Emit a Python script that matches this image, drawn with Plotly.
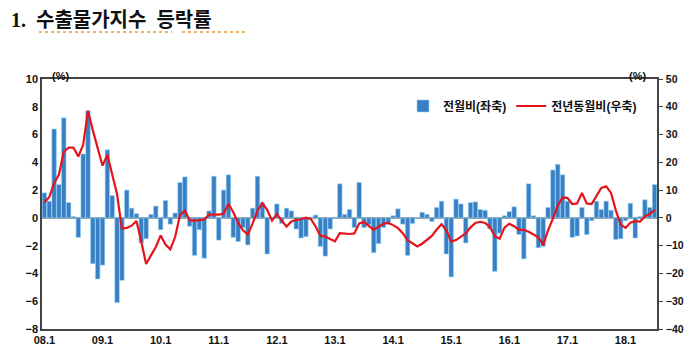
import plotly.graph_objects as go

# ---- data -------------------------------------------------------------
YEARS = ["08", "09", "10", "11", "12", "13", "14", "15", "16", "17", "18"]
MONTHS = [f"{y}.{m}" for y in YEARS for m in range(1, 13)][:127]   # 08.1 ~ 18.7
TICK_LABELS = ["08.1", "09.1", "10.1", "11.1", "12.1", "13.1",
               "14.1", "15.1", "16.1", "17.1", "18.1"]

MOM = [  # 전월비 (좌축, %)
    1.8, 1.2, 6.4, 2.4, 7.2, 1.1, 0.1, -1.4, 4.6, 7.7, -3.3, -4.4,
    -3.4, 4.9, 1.6, -6.1, -4.5, 2.0, 0.7, 0.3, -1.8, -1.5, 0.25, 0.85,
    -0.85, 1.25, -0.45, 0.35, 2.55, 2.95, -0.6, -2.7, -0.85, -2.9, 0.5, 3.0,
    -1.6, 2.0, 3.1, -1.4, -1.7, -0.7, -1.95, 0.7, 3.0, 1.1, -2.6, 0.05,
    1.0, -0.4, 0.7, 0.5, -0.8, -1.45, -1.35, 0.05, 0.2, -2.05, -2.75, -0.8,
    0.05, 2.45, 0.25, 0.6, -0.7, 2.55, -0.7, -0.5, -2.5, -1.85, -0.7, -0.45,
    0.15, 0.65, -0.45, -2.7, -0.4, 0.0, 0.4, 0.25, -0.25, 0.75, 1.2, -2.6,
    -4.25, 1.35, 1.0, -1.8, 1.1, 1.15, 0.6, 0.55, -0.8, -3.85, -1.1, 0.15,
    0.45, 0.8, -1.2, -2.95, 2.45, 0.15, -2.15, -2.05, 0.75, 3.45, 3.85, 3.1,
    1.2, -1.4, -1.3, 0.75, -1.2, -0.2, 1.2, 0.6, 1.2, 0.55, -1.55, -1.5,
    -0.2, 1.05, -1.45, 0.1, 1.3, 0.75, 2.4,
]

YOY = [  # 전년동월비 (우축, %)
    5.5, 7.5, 12.5, 15.6, 23.8, 25.3, 25.3, 22.1, 26.3, 38.6, 31.5, 25.4,
    18.8, 22.7, 15.8, 8.5, -3.9, -3.6, -2.8, -1.1, -8.5, -16.6, -13.5, -10.5,
    -6.3, -9.6, -11.3, -6.8, 1.0, 2.6, -0.8, -1.0, -0.8, -0.6, 1.2, 1.2,
    1.2, 1.5, 5.1, 2.0, -1.8, -4.5, -6.0, -2.0, 2.6, 5.3, 2.9, -1.0,
    1.4, -1.0, -3.1, -1.3, -0.7, -0.5, 0.1, -0.4, -3.1, -6.5, -6.7, -7.6,
    -8.4, -5.5, -5.7, -5.8, -5.6, -2.0, -1.5, -3.0, -4.3, -3.2, -2.1, -1.8,
    -2.6, -3.7, -5.5, -8.0, -9.0, -10.3, -9.3, -8.0, -6.5, -4.2, -2.3, -4.5,
    -8.5, -8.0, -6.8, -5.6, -3.4, -1.8, -1.4, -1.8, -3.3, -6.6, -7.5, -3.5,
    -2.1, -3.0, -4.3, -4.3, -5.0, -6.0, -7.0, -9.7, -4.5, -0.3, 4.5, 7.3,
    7.2, 5.0, 5.2, 9.0, 5.2, 5.0, 7.7, 10.8, 11.4, 9.0, 2.7, -2.4,
    -3.6, -1.7, -1.2, -1.3, 0.5, 1.4, 2.9,
]

LEFT_TICKS = [-8, -6, -4, -2, 0, 2, 4, 6, 8, 10]
RIGHT_TICKS = [-40, -30, -20, -10, 0, 10, 20, 30, 40, 50]

# ---- figure -----------------------------------------------------------
W, H = 685, 360
PL, PR, PT, PB = 42, 657, 79, 329          # plot box in window pixels
L, R, T, B = PL, W - PR, PT, H - PB
PW, PH = PR - PL, PB - PT


def px(x):
    return (x - PL) / PW


def py(y):
    return (PB - y) / PH


FONT = "Liberation Sans Narrow, Arial Narrow, Liberation Sans, Noto Sans CJK KR"
TICKFONT = dict(family=FONT, size=11, color="#111", weight="bold")

fig = go.Figure()
fig.add_trace(go.Bar(
    x=MONTHS, y=MOM, name="전월비(좌축)",
    marker=dict(color="#3a7fc3", line=dict(color="#8fd3f7", width=0.6)),
    yaxis="y",
))
fig.add_trace(go.Scatter(
    x=MONTHS, y=YOY, name="전년동월비(우축)", mode="lines",
    line=dict(color="#e5131b", width=2.2),
    yaxis="y2",
))

fig.update_layout(
    width=W, height=H,
    margin=dict(l=L, r=R, t=T, b=B, autoexpand=False),
    paper_bgcolor="white", plot_bgcolor="white",
    bargap=0.08,
    showlegend=True,
    legend=dict(orientation="h", x=px(642), xanchor="right",
                y=py(106), yanchor="middle",
                font=dict(family=FONT, size=12, color="#111", weight="bold"),
                bgcolor="rgba(0,0,0,0)", itemwidth=30, tracegroupgap=0),
    xaxis=dict(
        type="category", tickmode="array", tickvals=TICK_LABELS,
        ticktext=TICK_LABELS, range=[-0.5, len(MONTHS) - 0.5],
        showline=True, mirror=True, linecolor="#444", linewidth=1.5,
        showgrid=False, ticks="", automargin=False,
        tickfont=TICKFONT,
    ),
    yaxis=dict(
        range=[-8, 10], tickvals=LEFT_TICKS,
        showline=True, linecolor="#444", linewidth=1.5, mirror=False,
        showgrid=False, zeroline=True, zerolinecolor="#9a9a9a",
        zerolinewidth=2, ticks="", automargin=False,
        tickfont=TICKFONT,
    ),
    yaxis2=dict(
        range=[-40, 50], tickvals=RIGHT_TICKS, overlaying="y", side="right",
        showline=True, linecolor="#444", linewidth=1.5,
        showgrid=False, zeroline=False, ticks="outside", ticklen=4,
        tickcolor="#444", automargin=False, ticklabelstandoff=1,
        tickfont=dict(family=FONT, size=10.5, color="#111", weight="bold"),
    ),
    annotations=[
        dict(text="1.  수출물가지수  등락률", x=px(9), y=py(20),
             xref="paper", yref="paper", xanchor="left", yanchor="middle",
             showarrow=False,
             font=dict(family="Liberation Serif, Noto Sans CJK KR",
                       size=20, color="#111", weight=600)),
        dict(text="(%)", x=px(50), y=py(68), xref="paper", yref="paper",
             showarrow=False,
             font=dict(family=FONT, size=11, color="#111", weight="bold")),
        dict(text="(%)", x=px(648), y=py(68), xref="paper", yref="paper",
             showarrow=False,
             font=dict(family=FONT, size=11, color="#111", weight="bold")),
    ],
    shapes=[
        dict(type="line", xref="paper", yref="paper",
             x0=px(39), x1=px(172), y0=py(32), y1=py(32),
             line=dict(color="#e89a3c", width=1.5, dash="dot")),
        dict(type="line", xref="paper", yref="paper",
             x0=px(182), x1=px(248), y0=py(32), y1=py(32),
             line=dict(color="#e89a3c", width=1.5, dash="dot")),
    ],
)

# remove the browser's default page margin so the figure fills the window
fig.write_html(
    "out.html",
    config={"displayModeBar": False},
    post_script="document.body.style.margin='0';"
                "document.body.style.overflow='hidden';",
)
